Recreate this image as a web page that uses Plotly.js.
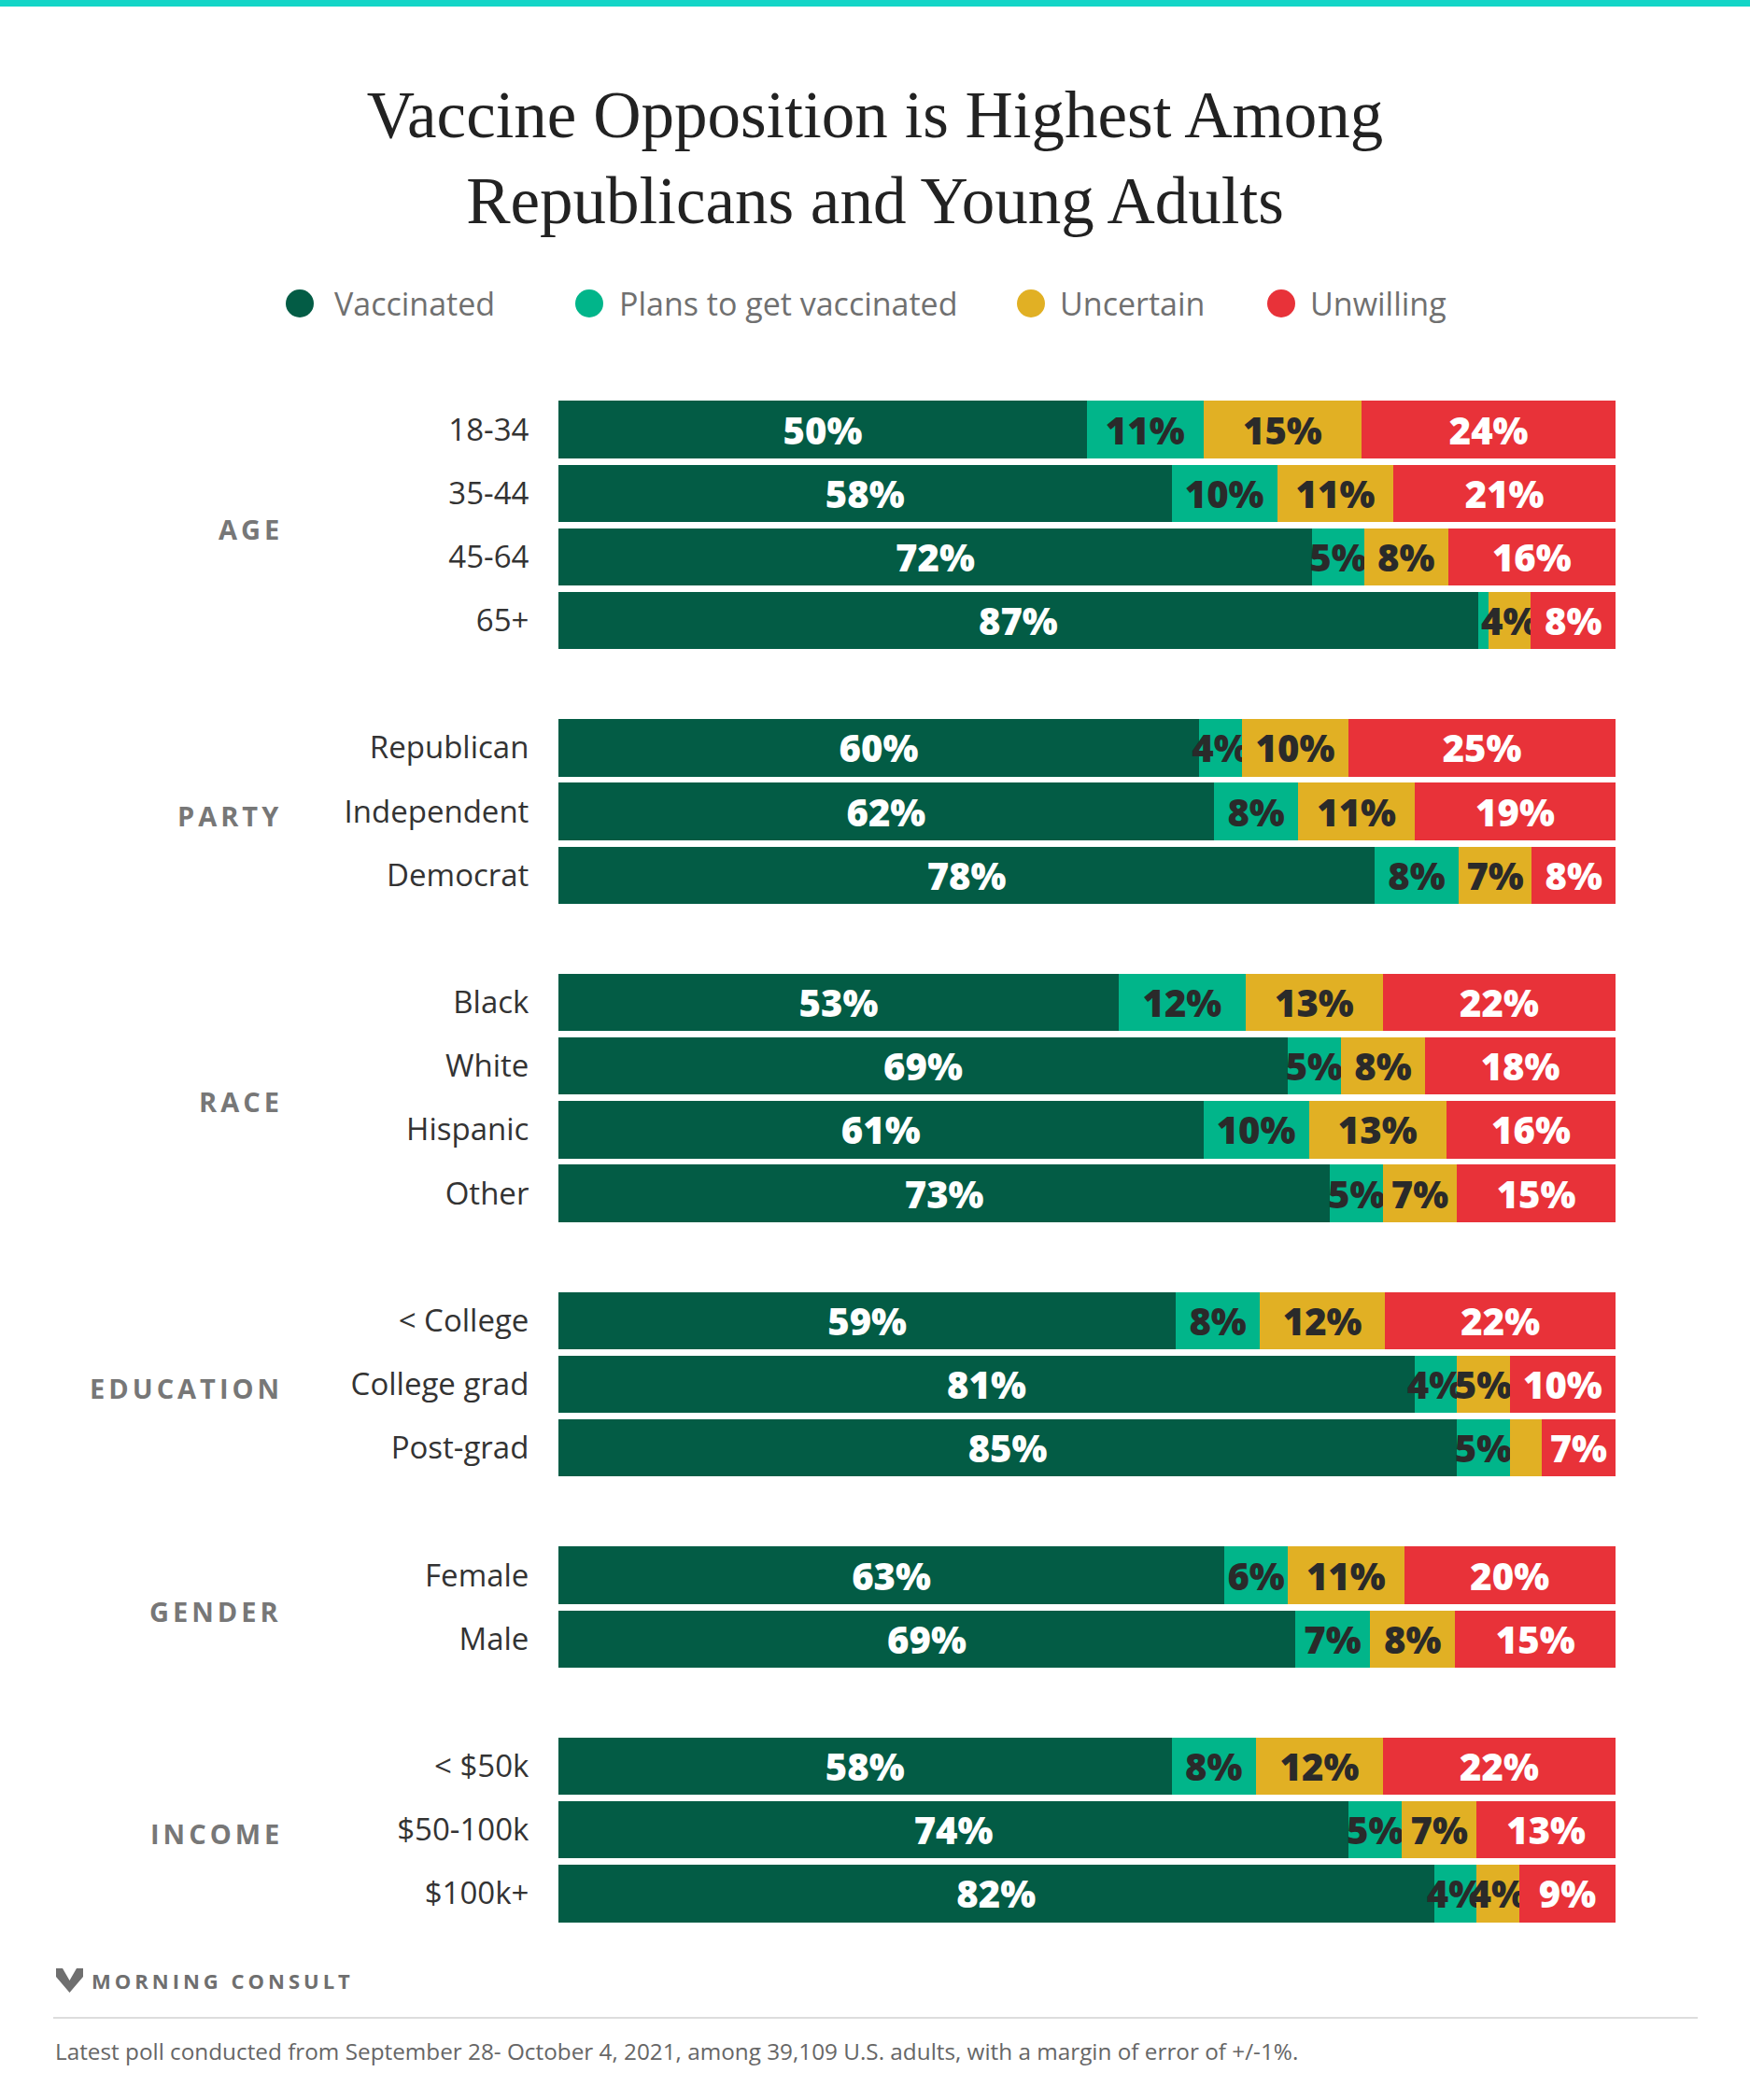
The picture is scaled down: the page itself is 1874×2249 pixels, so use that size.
<!DOCTYPE html>
<html>
<head>
<meta charset="utf-8">
<script src="https://cdn.plot.ly/plotly-3.0.1.min.js"></script>
<style>
  html, body { margin: 0; padding: 0; background: #fff; }
  #chart { width: 1874px; height: 2249px; }
</style>
</head>
<body>
<div id="chart"></div>
<script>
// ---------------- DATA ----------------
const categories = ['18-34', '35-44', '45-64', '65+',
  'Republican', 'Independent', 'Democrat',
  'Black', 'White', 'Hispanic', 'Other',
  '< College', 'College grad', 'Post-grad',
  'Female', 'Male',
  '< $50k', '$50-100k', '$100k+'];
const groupNames = ['AGE', 'PARTY', 'RACE', 'EDUCATION', 'GENDER', 'INCOME'];
const groupSizes = [4, 3, 4, 3, 2, 3];
const seriesNames = ['Vaccinated', 'Plans to get vaccinated', 'Uncertain', 'Unwilling'];
const vaccinated = [50, 58, 72, 87, 60, 62, 78, 53, 69, 61, 73, 59, 81, 85, 63, 69, 58, 74, 82];
const plans      = [11, 10, 5, 1, 4, 8, 8, 12, 5, 10, 5, 8, 4, 5, 6, 7, 8, 5, 4];
const uncertain  = [15, 11, 8, 4, 10, 11, 7, 13, 8, 13, 7, 12, 5, 3, 11, 8, 12, 7, 4];
const unwilling  = [24, 21, 16, 8, 25, 19, 8, 22, 18, 16, 15, 22, 10, 7, 20, 15, 22, 13, 9];
const titleText = 'Vaccine Opposition is Highest Among<br>Republicans and Young Adults';
const brandText = 'MORNING CONSULT';
const noteText = 'Latest poll conducted from September 28- October 4, 2021, among 39,109 U.S. adults, with a margin of error of +/-1%.';

// ---------------- STYLE ----------------
const colors = ['#035c45', '#01b58a', '#e1b024', '#e83239'];
const textColors = ['#ffffff', '#2a2a2a', '#2a2a2a', '#ffffff'];
const W = 1874, H = 2249;
const M = { l: 598, r: 144, t: 426, b: 187 };
const px2x = px => (px - M.l) / (W - M.l - M.r);
const py2y = py => (H - M.b - py) / (H - M.t - M.b);

// row positions: one empty slot between groups
const pos = [];
const groupCenters = [];
let k = 0;
groupSizes.forEach(s => {
  const start = k;
  for (let i = 0; i < s; i++) pos.push(k++);
  groupCenters.push((start + k - 1) / 2);
  k++;
});
const maxPos = pos[pos.length - 1];

const seriesValues = [vaccinated, plans, uncertain, unwilling];
const traces = seriesValues.map((vals, i) => ({
  type: 'bar',
  orientation: 'h',
  name: seriesNames[i],
  x: vals,
  y: pos,
  marker: { color: colors[i], line: { width: 0 } },
  text: vals.map(v => v >= 4 ? v + '%' : ''),
  textposition: 'inside',
  insidetextanchor: 'middle',
  constraintext: 'none',
  textangle: 0,
  textfont: { family: 'Open Sans', size: 40, weight: 800, color: textColors[i] },
  hoverinfo: 'none',
  showlegend: false
}));

const annotations = [];
const shapes = [];

// group labels
groupNames.forEach((g, i) => {
  annotations.push({
    xref: 'paper', yref: 'y', x: px2x(301), y: groupCenters[i] + 0.06,
    xanchor: 'right', yanchor: 'middle', align: 'right', showarrow: false,
    text: g, font: { family: 'Open Sans', size: 29, weight: 700, color: '#777777' }
  });
});

// legend
const legendMarkerX = [321, 631, 1104, 1372];
const legendTextX = [356, 661, 1133, 1401];
const legendY = 325;
seriesNames.forEach((n, i) => {
  shapes.push({
    type: 'circle', xref: 'paper', yref: 'paper',
    xsizemode: 'pixel', ysizemode: 'pixel',
    xanchor: px2x(legendMarkerX[i]), yanchor: py2y(legendY),
    x0: -15, x1: 15, y0: -15, y1: 15,
    fillcolor: colors[i], line: { width: 0 }
  });
  annotations.push({
    xref: 'paper', yref: 'paper', x: px2x(legendTextX[i]), y: py2y(legendY),
    xanchor: 'left', yanchor: 'middle', align: 'left', showarrow: false,
    text: n, font: { family: 'Open Sans', size: 34, color: '#707070' }
  });
});

// top band
shapes.push({
  type: 'rect', xref: 'paper', yref: 'paper',
  x0: px2x(0), x1: px2x(W), y0: py2y(7), y1: py2y(0),
  fillcolor: '#13d5c7', line: { width: 0 }
});

// logo mark
const lx = v => px2x(v), ly = v => py2y(v);
const logoPts = [[60, 2108], [67, 2108], [74.5, 2121], [82, 2108], [89, 2108], [89, 2117], [74.5, 2134], [60, 2117]];
shapes.push({
  type: 'path', xref: 'paper', yref: 'paper',
  path: 'M ' + logoPts.map(p => lx(p[0]) + ',' + ly(p[1])).join(' L ') + ' Z',
  fillcolor: '#6f6f6f', line: { width: 0 }
});
annotations.push({
  xref: 'paper', yref: 'paper', x: px2x(96), y: py2y(2121),
  xanchor: 'left', yanchor: 'middle', align: 'left', showarrow: false,
  text: brandText, font: { family: 'Open Sans', size: 22, weight: 700, color: '#6f6f6f' }
});

// rule
shapes.push({
  type: 'line', xref: 'paper', yref: 'paper',
  x0: px2x(57), x1: px2x(1818), y0: py2y(2161), y1: py2y(2161),
  line: { color: '#dddddd', width: 2 }
});

// footnote
annotations.push({
  xref: 'paper', yref: 'paper', x: px2x(57), y: py2y(2196),
  xanchor: 'left', yanchor: 'middle', align: 'left', showarrow: false,
  text: noteText, font: { family: 'Open Sans', size: 24.3, color: '#666666' }
});

const layout = {
  width: W, height: H,
  margin: { l: M.l, r: M.r, t: M.t, b: M.b, pad: 0 },
  paper_bgcolor: '#ffffff', plot_bgcolor: '#ffffff',
  barmode: 'stack', barnorm: 'percent', bargap: 0.1,
  showlegend: false,
  title: {
    text: titleText,
    font: { family: 'Liberation Serif', size: 71, color: '#222222' },
    x: 0.5, xanchor: 'center', xref: 'container',
    y: 1 - 147 / H, yanchor: 'top', yref: 'container'
  },
  xaxis: { range: [0, 100], visible: false, fixedrange: true, showgrid: false, zeroline: false },
  yaxis: {
    range: [maxPos + 0.5, -0.5],
    tickmode: 'array', tickvals: pos, ticktext: categories,
    ticks: 'outside', ticklen: 24, tickcolor: 'rgba(0,0,0,0)',
    showgrid: false, zeroline: false, showline: false, fixedrange: true,
    tickfont: { family: 'Open Sans', size: 33, color: '#333333' }
  },
  annotations: annotations,
  shapes: shapes
};

Plotly.newPlot('chart', traces, layout, { staticPlot: true, displayModeBar: false }).then(() => {
  const spacing = {};
  groupNames.forEach(g => spacing[g] = 4);
  spacing[brandText] = 4;
  document.querySelectorAll('.annotation-text').forEach(t => {
    const txt = t.textContent;
    if (spacing[txt] !== undefined) {
      const ls = spacing[txt];
      t.style.letterSpacing = ls + 'px';
      const anchor = t.getAttribute('text-anchor');
      if (anchor === 'end') t.setAttribute('transform', 'translate(' + ls + ',0)');
    }
  });
});
</script>
</body>
</html>
